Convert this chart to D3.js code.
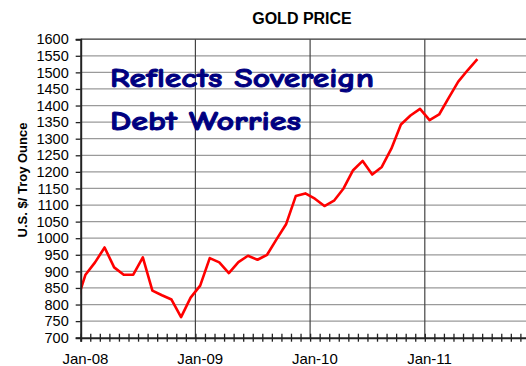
<!DOCTYPE html>
<html>
<head>
<meta charset="utf-8">
<script src="https://cdn.jsdelivr.net/npm/d3@7"></script>
<style>
  html, body { margin: 0; padding: 0; background: #fff; }
  svg { display: block; }
  text { font-family: "Liberation Sans", Arial, sans-serif; fill: #000; }
</style>
</head>
<body>
<svg id="chart" width="526" height="366"></svg>
<script>
// Monthly average gold price, US$ per troy ounce (Dec-07 through Jun-11)
const months = [
  "Dec-07",
  "Jan-08","Feb-08","Mar-08","Apr-08","May-08","Jun-08","Jul-08","Aug-08","Sep-08","Oct-08","Nov-08","Dec-08",
  "Jan-09","Feb-09","Mar-09","Apr-09","May-09","Jun-09","Jul-09","Aug-09","Sep-09","Oct-09","Nov-09","Dec-09",
  "Jan-10","Feb-10","Mar-10","Apr-10","May-10","Jun-10","Jul-10","Aug-10","Sep-10","Oct-10","Nov-10","Dec-10",
  "Jan-11","Feb-11","Mar-11","Apr-11","May-11","Jun-11"
];
const prices = [
  800,
  890, 927, 972, 912, 890, 890, 942, 842, 828, 815, 762, 821,
  857, 940, 927, 895, 928, 947, 935, 950, 997, 1043, 1127, 1135,
  1119, 1097, 1113, 1150, 1205, 1233, 1192, 1215, 1270, 1343, 1370, 1390,
  1356, 1373, 1423, 1472, 1507, 1540
];
// Month offset of the first entry, counted from Jan-08
const firstMonthOffset = -1;

const yTicks = d3.range(700, 1601, 50);
const yearLabels = ["Jan-08", "Jan-09", "Jan-10", "Jan-11"];
const yearStarts = [0, 12, 24, 36];

const title = "GOLD PRICE";
const yTitle = "U.S. $/ Troy Ounce";
const note = ["Reflects Sovereign", "Debt Worries"];

const svg = d3.select("#chart");

const plotLeft = 80.7, plotTop = 39.2, plotBottom = 337.7, plotRight = 539.5;
const x = d3.scaleLinear().domain([0, 48]).range([plotLeft, plotRight]);
const y = d3.scaleLinear().domain([700, 1600]).range([plotBottom, plotTop]);

// Horizontal gridlines
svg.append("g")
  .selectAll("line")
  .data(yTicks.filter(v => v > 700 && v < 1600))
  .join("line")
  .attr("x1", plotLeft).attr("x2", plotRight)
  .attr("y1", d => y(d)).attr("y2", d => y(d))
  .attr("stroke", "#9a9a9a").attr("stroke-width", 1.3);

// Top border of the plot area
svg.append("line")
  .attr("x1", plotLeft).attr("x2", plotRight)
  .attr("y1", y(1600)).attr("y2", y(1600))
  .attr("stroke", "#333").attr("stroke-width", 1.3);

// Vertical year gridlines
svg.append("g")
  .selectAll("line")
  .data(yearStarts.filter(m => m > 0))
  .join("line")
  .attr("x1", d => x(d)).attr("x2", d => x(d))
  .attr("y1", y(1600)).attr("y2", y(700))
  .attr("stroke", "#444").attr("stroke-width", 1.2);

// Annotation
svg.append("g")
  .selectAll("text")
  .data(note)
  .join("text")
  .attr("x", 110)
  .attr("y", (d, i) => i === 0 ? 87 : 129.5)
  .attr("textLength", (d, i) => i === 0 ? 264 : 191)
  .attr("lengthAdjust", "spacingAndGlyphs")
  .style("font-family", '"Comic Sans MS", "Comic Neue", "DejaVu Sans", sans-serif')
  .style("font-weight", "bold")
  .style("font-size", "27px")
  .style("fill", "#000080")
  .style("stroke", "#000080")
  .style("stroke-width", "0.9px")
  .style("stroke-linejoin", "round")
  .text(d => d);

// Price line, clipped to the plot area
svg.append("clipPath").attr("id", "plotClip")
  .append("rect")
  .attr("x", plotLeft).attr("y", plotTop - 5)
  .attr("width", plotRight - plotLeft).attr("height", plotBottom - plotTop + 5);

const line = d3.line()
  .x((d, i) => x(firstMonthOffset + i + 0.5))
  .y(d => y(d));

svg.append("path")
  .datum(prices)
  .attr("clip-path", "url(#plotClip)")
  .attr("fill", "none")
  .attr("stroke", "#ff0000")
  .attr("stroke-width", 2.6)
  .attr("stroke-linejoin", "round")
  .attr("d", line);

// Y axis
const yAxis = svg.append("g")
  .attr("transform", `translate(${plotLeft},0)`)
  .call(d3.axisLeft(y).tickValues(yTicks).tickSize(5).tickPadding(7).tickFormat(d3.format("d")));
yAxis.select(".domain").attr("stroke", "#222").attr("stroke-width", 2);
yAxis.selectAll(".tick line").attr("stroke", "#222").attr("stroke-width", 1.3);
yAxis.selectAll(".tick text")
  .style("font-family", '"Liberation Sans", Arial, sans-serif')
  .style("font-size", "14.5px").attr("fill", "#000");

// X axis with monthly tick marks crossing the axis line
const xAxis = svg.append("g")
  .attr("transform", `translate(0,${plotBottom})`)
  .call(d3.axisBottom(x).tickValues(d3.range(0, 49)).tickSize(4).tickFormat(""));
xAxis.select(".domain").attr("stroke", "#222").attr("stroke-width", 2);
xAxis.selectAll(".tick line").attr("y1", -4).attr("stroke", "#222").attr("stroke-width", 1.3);

// Year labels centred on the January of each year
svg.append("g")
  .selectAll("text")
  .data(yearLabels)
  .join("text")
  .attr("x", (d, i) => x(yearStarts[i] + 0.5))
  .attr("y", 364)
  .attr("text-anchor", "middle")
  .style("font-size", "15px")
  .text(d => d);

// Titles
svg.append("text")
  .attr("x", 302).attr("y", 24.3)
  .attr("text-anchor", "middle")
  .style("font-weight", "bold").style("font-size", "16px")
  .text(title);

svg.append("text")
  .attr("transform", "translate(26.5,180) rotate(-90)")
  .attr("text-anchor", "middle")
  .style("font-weight", "bold").style("font-size", "13px")
  .text(yTitle);
</script>
</body>
</html>
